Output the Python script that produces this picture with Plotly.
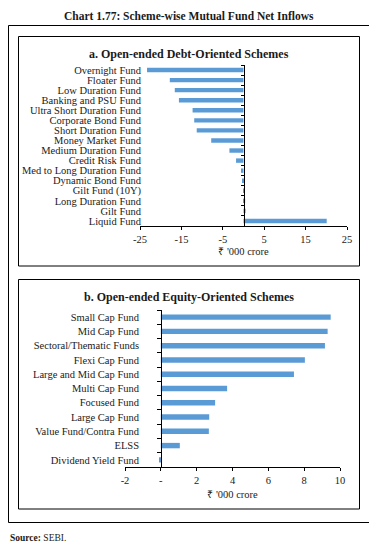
import plotly.graph_objects as go

# ---------------- data ----------------
debt_categories = [
    "Overnight Fund", "Floater Fund", "Low Duration Fund", "Banking and PSU Fund",
    "Ultra Short Duration Fund", "Corporate Bond Fund", "Short Duration Fund",
    "Money Market Fund", "Medium Duration Fund", "Credit Risk Fund",
    "Med to Long Duration Fund", "Dynamic Bond Fund", "Gilt Fund (10Y)",
    "Long Duration Fund", "Gilt Fund", "Liquid Fund",
]
debt_values = [-23.3, -17.8, -16.6, -15.6, -12.3, -11.9, -11.3, -7.8, -3.4, -1.8,
               -0.6, -0.3, -0.05, 0.4, 0.5, 20.1]

equity_categories = [
    "Small Cap Fund", "Mid Cap Fund", "Sectoral/Thematic Funds", "Flexi Cap Fund",
    "Large and Mid Cap Fund", "Multi Cap Fund", "Focused Fund", "Large Cap Fund",
    "Value Fund/Contra Fund", "ELSS", "Dividend Yield Fund",
]
equity_values = [9.48, 9.31, 9.16, 8.04, 7.43, 3.7, 3.03, 2.7, 2.68, 1.06, -0.06]

debt_ticks = [-25, -15, -5, 5, 15, 25]
debt_ticktext = ["-25", "-15", "-5", "5", "15", "25"]
equity_ticks = [-2, 0, 2, 4, 6, 8, 10]
equity_ticktext = ["-2", "-", "2", "4", "6", "8", "10"]

# ---------------- layout ----------------
OFF = 8                      # page body margin
W, H = 377 - OFF, 551 - OFF
FONT = "Liberation Serif"
BAR = "#5b9bd5"
TXT = "#1a1a1a"

def px(x):
    return (x - OFF) / W

def py(y):
    return 1 - (y - OFF) / H

top_xdom = [px(140), px(347)]
top_ydom = [py(226), py(65)]
bot_xdom = [px(125), px(340)]
bot_ydom = [py(467), py(310)]
top_range = [-25, 25]
bot_range = [-2, 10]

def zero_pos(dom, rng):
    return dom[0] + (0 - rng[0]) / (rng[1] - rng[0]) * (dom[1] - dom[0])

fig = go.Figure()
fig.add_trace(go.Bar(x=debt_values, y=debt_categories, orientation="h",
                     marker=dict(color=BAR, line=dict(width=0)), width=0.44,
                     xaxis="x", yaxis="y", hoverinfo="x+y"))
fig.add_trace(go.Scatter(x=[None], y=[None], xaxis="x", yaxis="y3",
                         showlegend=False, hoverinfo="skip"))
fig.add_trace(go.Bar(x=equity_values, y=equity_categories, orientation="h",
                     marker=dict(color=BAR, line=dict(width=0)), width=0.38,
                     xaxis="x2", yaxis="y2", hoverinfo="x+y"))
fig.add_trace(go.Scatter(x=[None], y=[None], xaxis="x2", yaxis="y4",
                         showlegend=False, hoverinfo="skip"))

nd = len(debt_categories)
ne = len(equity_categories)
tickfont = dict(family=FONT, size=10.5, color=TXT)
titlefont = dict(family=FONT, size=10.5, color=TXT)

fig.update_layout(
    width=W, height=H,
    margin=dict(l=0, r=0, t=0, b=0, autoexpand=False),
    paper_bgcolor="white", plot_bgcolor="rgba(0,0,0,0)",
    showlegend=False,
    xaxis=dict(domain=top_xdom, range=top_range, anchor="y", tickmode="array",
               tickvals=debt_ticks, ticktext=debt_ticktext, showline=True,
               linecolor="black", linewidth=1, ticks="outside", ticklen=3,
               tickcolor="black", showgrid=False, zeroline=False, tickfont=tickfont,
               automargin=False,
               title=dict(text="₹ '000 crore", font=titlefont, standoff=4)),
    yaxis=dict(domain=top_ydom, type="category", range=[nd - 0.5, -0.5],
               tickmode="array", tickvals=debt_categories, ticktext=debt_categories,
               anchor="free", position=px(141), showline=False, ticks="",
               showgrid=False, zeroline=False, tickfont=tickfont, automargin=False),
    yaxis3=dict(overlaying="y", type="linear", range=[nd - 0.5, -0.5],
                anchor="free", position=zero_pos(top_xdom, top_range),
                tickmode="array", tickvals=[i - 0.5 for i in range(nd + 1)],
                showticklabels=False, ticks="outside", ticklen=3, tickcolor="black",
                showline=True, linecolor="black", linewidth=1, showgrid=False,
                zeroline=False, automargin=False),
    xaxis2=dict(domain=bot_xdom, range=bot_range, anchor="y2", tickmode="array",
                tickvals=equity_ticks, ticktext=equity_ticktext, showline=True,
                linecolor="black", linewidth=1, ticks="outside", ticklen=3,
                tickcolor="black", showgrid=False, zeroline=False, tickfont=tickfont,
                automargin=False,
                title=dict(text="₹ '000 crore", font=titlefont, standoff=6)),
    yaxis2=dict(domain=bot_ydom, type="category", range=[ne - 0.5, -0.5],
                tickmode="array", tickvals=equity_categories, ticktext=equity_categories,
                anchor="free", position=px(139), showline=False, ticks="",
                showgrid=False, zeroline=False, tickfont=tickfont, automargin=False),
    yaxis4=dict(overlaying="y2", type="linear", range=[ne - 0.5, -0.5],
                anchor="free", position=zero_pos(bot_xdom, bot_range),
                tickmode="array", tickvals=[i - 0.5 for i in range(ne + 1)],
                showticklabels=False, ticks="outside", ticklen=4, tickcolor="black",
                showline=True, linecolor="black", linewidth=1, showgrid=False,
                zeroline=False, automargin=False),
)

# frames
box = dict(type="rect", xref="paper", yref="paper", fillcolor="rgba(0,0,0,0)")
fig.add_shape(**box, x0=px(8.5), x1=px(370.5), y0=py(522.5), y1=py(25.5),
              line=dict(color="black", width=1))
fig.add_shape(**box, x0=px(18.5), x1=px(359.5), y0=py(266), y1=py(36.5),
              line=dict(color="black", width=1))
fig.add_shape(**box, x0=px(18.5), x1=px(359.5), y0=py(509), y1=py(279.5),
              line=dict(color="black", width=1))

# texts
ann = dict(xref="paper", yref="paper", showarrow=False, yanchor="middle")
fig.add_annotation(**ann, text="<b>Chart 1.77: Scheme-wise Mutual Fund Net Inflows</b>",
                   x=px(189), xanchor="center", y=py(16),
                   font=dict(family=FONT, size=11.5, color=TXT))
fig.add_annotation(**ann, text="<b>a. Open-ended Debt-Oriented Schemes</b>",
                   x=px(189), xanchor="center", y=py(54),
                   font=dict(family=FONT, size=12, color=TXT))
fig.add_annotation(**ann, text="<b>b. Open-ended Equity-Oriented Schemes</b>",
                   x=px(189), xanchor="center", y=py(297),
                   font=dict(family=FONT, size=12, color=TXT))
fig.add_annotation(**ann, text="<b>Source:</b> SEBI.",
                   x=0, xanchor="left", y=py(538),
                   font=dict(family=FONT, size=9.5, color=TXT))

fig.write_html("out.html")
